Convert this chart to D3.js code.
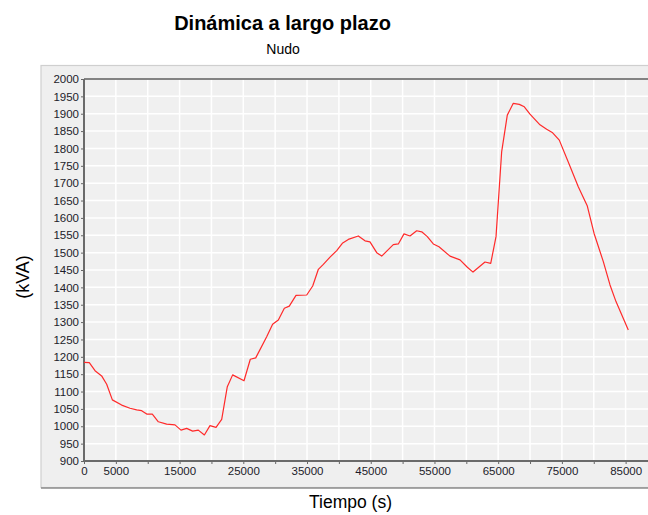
<!DOCTYPE html>
<html>
<head>
<meta charset="utf-8">
<script src="https://cdn.jsdelivr.net/npm/d3@7"></script>
<style>
  html, body { margin: 0; padding: 0; background: #ffffff; }
  svg { display: block; font-family: "Liberation Sans", Arial, sans-serif; }
</style>
</head>
<body>
<svg id="chart" width="648" height="515"></svg>
<script>
// ---- data ----
const title = "Dinámica a largo plazo";
const subtitle = "Nudo";
const xLabel = "Tiempo (s)";
const yLabel = "(kVA)";

const timeSeconds = [
  0, 830, 1730, 2770, 3560, 4450, 5910, 7220, 8270, 9050, 9840, 10720, 11670,
  12970, 14280, 15220, 16110, 17050, 17940, 18890, 19770, 20720, 21610, 22490,
  23330, 25110, 26100, 26950, 28670, 29600, 30500, 31440, 32220, 33270, 34950,
  35890, 36780, 37560, 38610, 39660, 40540, 41480, 43050, 44100, 44880, 45940,
  46720, 48540, 49330, 50220, 51160, 52210, 53000, 53880, 54820, 55710, 57440,
  59010, 60160, 61050, 62930, 63830, 64660, 65550, 66430, 67370, 68310, 69100,
  69990, 71560, 72610, 73550, 74590, 76270, 77570, 78990, 80040, 81500, 82550,
  83490, 85420
];
const powerKVA = [
  1184, 1183, 1160, 1145, 1121, 1076, 1061, 1052, 1047, 1045, 1035, 1035, 1013,
  1006, 1004, 989, 994, 986, 989, 975, 1002, 997, 1020, 1114,
  1148, 1131, 1193, 1197, 1258, 1294, 1306, 1340, 1346, 1377, 1378,
  1404, 1452, 1466, 1487, 1506, 1527, 1538, 1548, 1534, 1531, 1500,
  1490, 1523, 1525, 1554, 1548, 1563, 1560, 1546, 1525, 1517, 1490,
  1479, 1458, 1444, 1473, 1469, 1546, 1791, 1896, 1930, 1927, 1920,
  1899, 1868, 1855, 1845, 1824, 1749, 1690, 1634, 1556, 1474, 1407,
  1359, 1277
];

const xTickLabels = [0, 5000, 15000, 25000, 35000, 45000, 55000, 65000, 75000, 85000];
const xGridValues = d3.range(0, 95000, 5000);
const yTickValues = d3.range(900, 2001, 50);

// ---- layout ----
const svg = d3.select("#chart");
const plotLeft = 84, plotTop = 79, plotBottom = 461;
const pxPer1000 = 6.372;
const xMax = 90000;
const plotRight = plotLeft + xMax / 1000 * pxPer1000;

const x = d3.scaleLinear().domain([0, xMax]).range([plotLeft, plotRight]);
const y = d3.scaleLinear().domain([900, 2000]).range([plotBottom, plotTop]);

// outer panel
svg.append("rect")
  .attr("x", 41).attr("y", 65.5).attr("width", 640).attr("height", 422)
  .attr("fill", "#efefef").attr("stroke", "#cfcfcf").attr("stroke-width", 1.2);
svg.append("line")
  .attr("x1", 41).attr("x2", 648).attr("y1", 488).attr("y2", 488)
  .attr("stroke", "#8c8c8c").attr("stroke-width", 1.5);

// plot background
svg.append("rect")
  .attr("x", plotLeft).attr("y", plotTop)
  .attr("width", plotRight - plotLeft).attr("height", plotBottom - plotTop)
  .attr("fill", "#f0f0f0");

// gridlines
svg.append("g").selectAll("line").data(yTickValues).join("line")
  .attr("x1", plotLeft).attr("x2", plotRight)
  .attr("y1", d => y(d)).attr("y2", d => y(d))
  .attr("stroke", "#ffffff").attr("stroke-width", 1.5);
svg.append("g").selectAll("line").data(xGridValues).join("line")
  .attr("x1", d => x(d)).attr("x2", d => x(d))
  .attr("y1", plotTop).attr("y2", plotBottom)
  .attr("stroke", "#ffffff").attr("stroke-width", 1.5);

// axes
const yAxis = d3.axisLeft(y).tickValues(yTickValues).tickSize(3).tickPadding(2)
  .tickFormat(d3.format("d"));
const gy = svg.append("g").attr("transform", `translate(${plotLeft},0)`).call(yAxis);
gy.select(".domain").remove();
gy.selectAll(".tick line").attr("stroke", "#666");
gy.selectAll("text").attr("font-size", "11.5px").attr("fill", "#1c1c2a")
  .attr("font-family", "Liberation Sans, Arial, sans-serif");

const xAxis = d3.axisBottom(x).tickValues(xGridValues).tickSize(3).tickPadding(3)
  .tickFormat(d => xTickLabels.includes(d) ? d3.format("d")(d) : "");
const gx = svg.append("g").attr("transform", `translate(0,${plotBottom})`).call(xAxis);
gx.select(".domain").remove();
gx.selectAll(".tick line").attr("stroke", "#666");
gx.selectAll("text").attr("font-size", "11.5px").attr("fill", "#1c1c2a")
  .attr("font-family", "Liberation Sans, Arial, sans-serif");

// plot border lines (top, left, bottom)
svg.append("line").attr("x1", plotLeft).attr("x2", plotRight).attr("y1", plotTop).attr("y2", plotTop)
  .attr("stroke", "#5a5a5a").attr("stroke-width", 1.5);
svg.append("line").attr("x1", plotLeft).attr("x2", plotLeft).attr("y1", plotTop).attr("y2", plotBottom)
  .attr("stroke", "#6a6a6a").attr("stroke-width", 2);
svg.append("line").attr("x1", plotLeft).attr("x2", plotRight).attr("y1", plotBottom).attr("y2", plotBottom)
  .attr("stroke", "#6a6a6a").attr("stroke-width", 2);

// series line
const line = d3.line().x((d, i) => x(timeSeconds[i])).y(d => y(d));
svg.append("path").datum(powerKVA)
  .attr("d", line)
  .attr("fill", "none").attr("stroke", "#ff2a2a").attr("stroke-width", 1.2)
  .attr("stroke-linejoin", "round");

// titles
svg.append("text").attr("x", 282.5).attr("y", 29.5).attr("text-anchor", "middle")
  .attr("font-size", "20px").attr("font-weight", "bold").attr("fill", "#000")
  .text(title);
svg.append("text").attr("x", 283).attr("y", 53.5).attr("text-anchor", "middle")
  .attr("font-size", "14px").attr("fill", "#000").text(subtitle);
svg.append("text").attr("x", 350.5).attr("y", 508).attr("text-anchor", "middle")
  .attr("font-size", "17.5px").attr("fill", "#000").text(xLabel);
svg.append("text").attr("transform", "translate(29,277) rotate(-90)")
  .attr("text-anchor", "middle").attr("font-size", "18px").attr("fill", "#000")
  .text(yLabel);
</script>
</body>
</html>
